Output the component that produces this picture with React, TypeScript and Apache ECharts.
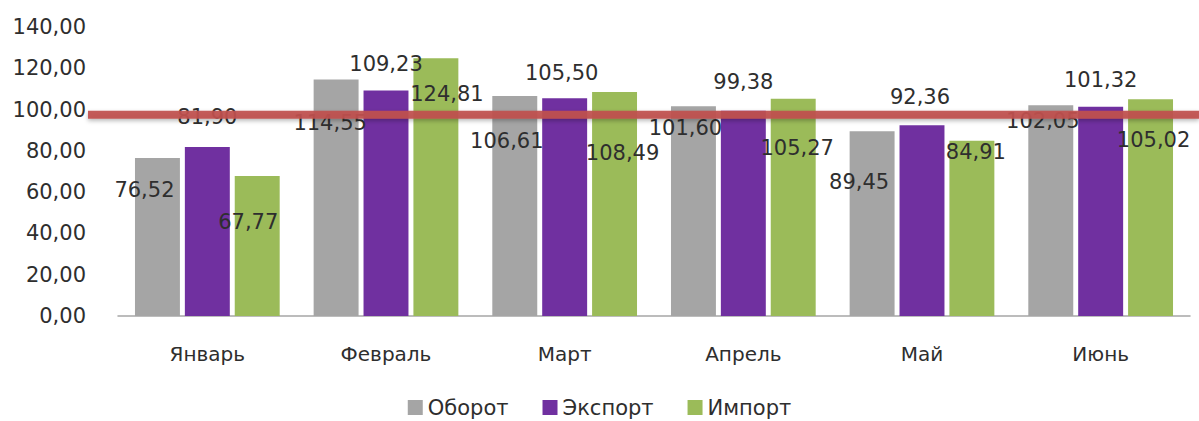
import { useEffect, useRef } from "react";
import * as echarts from "echarts";

const categories = ["Январь", "Февраль", "Март", "Апрель", "Май", "Июнь"];
const seriesNames = ["Оборот", "Экспорт", "Импорт"];
const turnover = [76.52, 114.55, 106.61, 101.6, 89.45, 102.05];
const exportVals = [81.9, 109.23, 105.5, 99.38, 92.36, 101.32];
const importVals = [67.77, 124.81, 108.49, 105.27, 84.91, 105.02];
const yMin = 0;
const yMax = 140;
const yInterval = 20;
const referenceLevel = 97.5;

// label placement (styling): level in axis units where the label centre sits, and horizontal shift in px
const turnoverLabelLevel = [61, 93.5, 84.8, 91, 65, 94.5];
const turnoverLabelDx = [-13, -6, -8, -8, -13, -8];
const exportLabelLevel = [96.5, 122, 117.7, 113.4, 106, 114.3];
const exportLabelDx = [0, 0, -3, 0, -2, 0];
const importLabelLevel = [45.5, 107.5, 79, 81.4, 79.5, 85.3];
const importLabelDx = [-9, 11, 8, 4, 4, 3];

const colors = ["#a5a5a5", "#7030a0", "#9bbb59"];
const FONT = "'DejaVu Sans', sans-serif";
const TEXT = "#2e2e2e";

const W = 1199;
const H = 421;
const GRID_TOP = 27;
const GRID_BOTTOM = 105;
const PLOT_H = H - GRID_TOP - GRID_BOTTOM;
const K = PLOT_H / (yMax - yMin);

const fmt = (v: number) => v.toFixed(2).replace(".", ",");

function makeData(values: number[], levels: number[], dxs: number[]) {
  return values.map((v, i) => ({
    value: v,
    label: {
      position: ["50%", (v - levels[i]) * K] as any,
      offset: [dxs[i], 0],
    },
  }));
}

export default function App() {
  const ref = useRef<HTMLDivElement>(null);
  useEffect(() => {
    document.body.style.margin = "0";
    if (!ref.current) return;
    const chart = echarts.init(ref.current, undefined, { renderer: "svg" });
    const labelBase = {
      show: true,
      align: "center",
      verticalAlign: "middle",
      color: TEXT,
      fontFamily: FONT,
      fontSize: 21,
      formatter: (p: any) => fmt(p.value),
    };
    const vals = [turnover, exportVals, importVals];
    const levels = [turnoverLabelLevel, exportLabelLevel, importLabelLevel];
    const dxs = [turnoverLabelDx, exportLabelDx, importLabelDx];
    const refY = GRID_TOP + (yMax - referenceLevel) * K;
    const lineW = 8;
    chart.setOption({
      animation: false,
      color: colors,
      grid: { left: 118, right: 9, top: GRID_TOP, bottom: GRID_BOTTOM, containLabel: false },
      legend: {
        data: seriesNames,
        top: 392,
        left: "center",
        itemWidth: 15,
        itemHeight: 15,
        itemGap: 34,
        icon: "rect",
        textStyle: { color: TEXT, fontFamily: FONT, fontSize: 21, padding: [0, 0, 0, 0] },
      },
      xAxis: {
        type: "category",
        data: categories,
        axisLine: { lineStyle: { color: "#a6a6a6", width: 1.5 } },
        axisTick: { show: false },
        axisLabel: { color: TEXT, fontFamily: FONT, fontSize: 20, margin: 28 },
      },
      yAxis: {
        type: "value",
        min: yMin,
        max: yMax,
        interval: yInterval,
        axisLine: { show: false },
        axisTick: { show: false },
        splitLine: { show: false },
        axisLabel: {
          color: TEXT,
          fontFamily: FONT,
          fontSize: 21,
          margin: 32,
          formatter: (v: number) => fmt(v),
        },
      },
      graphic: [
        {
          type: "rect",
          z: 100,
          shape: { x: 88, y: refY - lineW / 2, width: W - 88, height: lineW },
          style: {
            fill: "rgba(192,80,77,0.93)",
            shadowBlur: 4,
            shadowOffsetY: 2,
            shadowColor: "rgba(0,0,0,0.3)",
          },
        },
      ],
      series: seriesNames.map((name, s) => ({
        name,
        type: "bar",
        barGap: "11%",
        barCategoryGap: "19%",
        label: labelBase,
        data: makeData(vals[s], levels[s], dxs[s]),
      })),
    });
    return () => chart.dispose();
  }, []);
  return <div ref={ref} style={{ width: W, height: H }} />;
}
